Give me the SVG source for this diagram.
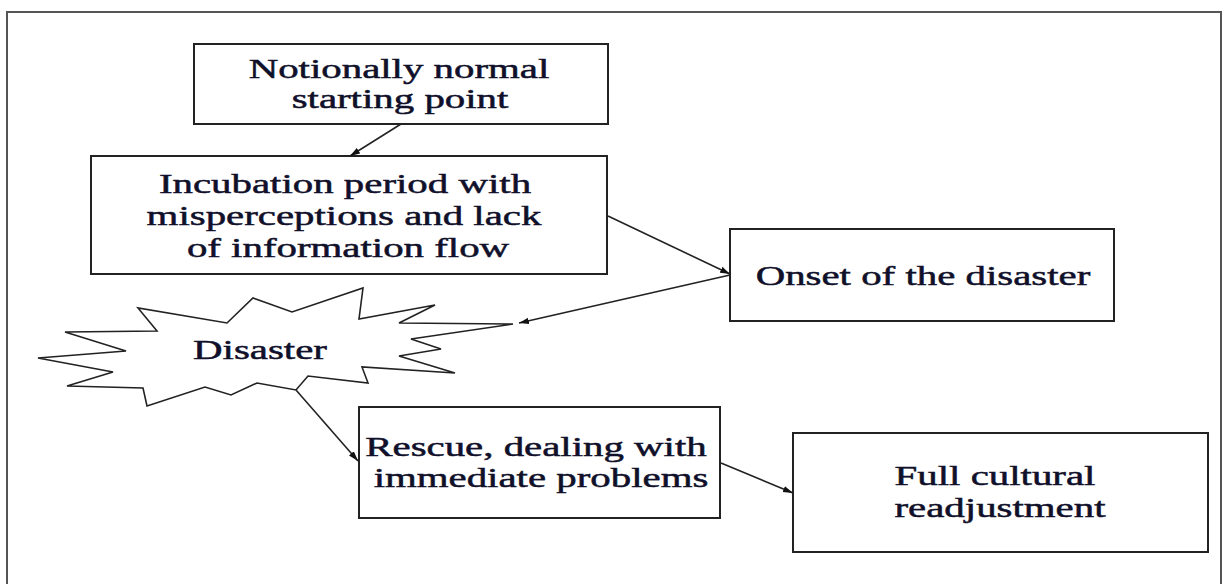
<svg xmlns="http://www.w3.org/2000/svg" width="1226" height="584" viewBox="0 0 1226 584">
<defs>
<style>
.box{fill:#fff;stroke:#222;stroke-width:2}
.lbl{font-family:"Liberation Serif","Times New Roman",serif;font-size:28px;fill:#10102a;stroke:#10102a;stroke-width:0.5;text-anchor:middle}
.conn{stroke:#222;stroke-width:1.6;fill:none;marker-end:url(#ah)}
</style>
<marker id="ah" viewBox="0 0 10 8" refX="10" refY="4" markerWidth="10" markerHeight="8" markerUnits="userSpaceOnUse" orient="auto">
<path d="M0,0.8 L10,4 L0,7.2 Z" fill="#111"/>
</marker>
</defs>
<rect x="0" y="0" width="1226" height="584" fill="#fff"/>
<rect id="frame" x="7" y="12" width="1214" height="620" fill="none" stroke="#555" stroke-width="2"/>

<g id="node-start">
<rect class="box" x="194" y="44" width="414" height="80"/>
<text class="lbl" transform="translate(399 0) scale(1.46 1)" x="0" y="78">Notionally normal</text>
<text class="lbl" transform="translate(400 0) scale(1.46 1)" x="0" y="108">starting point</text>
</g>

<g id="node-incubation">
<rect class="box" x="91" y="156" width="516" height="118"/>
<text class="lbl" transform="translate(345 0) scale(1.46 1)" x="0" y="193">Incubation period with</text>
<text class="lbl" transform="translate(344 0) scale(1.46 1)" x="0" y="225">misperceptions and lack</text>
<text class="lbl" transform="translate(348 0) scale(1.46 1)" x="0" y="257">of information flow</text>
</g>

<g id="node-onset">
<rect class="box" x="730" y="229" width="384" height="92"/>
<text class="lbl" transform="translate(923 0) scale(1.46 1)" x="0" y="285">Onset of the disaster</text>
</g>

<g id="node-disaster">
<polygon points="363,288 359,319 435,305 399,323 513,324 411,339 441,349 399,356 455,373 362,367 368,383 308,376 296,390 257,383 231,395 205,387 147,406 143,388 67,386 113,372 38,358 126,351 65,332 157,331 138,308 227,323 253,298 292,312" fill="#fff" stroke="#222" stroke-width="1.6" stroke-linejoin="miter"/>
<text class="lbl" transform="translate(260 0) scale(1.46 1)" x="0" y="359">Disaster</text>
</g>

<g id="node-rescue">
<rect class="box" x="359" y="407" width="361" height="111"/>
<text class="lbl" transform="translate(536 0) scale(1.46 1)" x="0" y="456">Rescue, dealing with</text>
<text class="lbl" transform="translate(541 0) scale(1.46 1)" x="0" y="487">immediate problems</text>
</g>

<g id="node-readjust">
<rect class="box" x="793" y="433" width="415" height="119"/>
<text class="lbl" transform="translate(995 0) scale(1.46 1)" x="0" y="485">Full cultural</text>
<text class="lbl" transform="translate(1000 0) scale(1.46 1)" x="0" y="517">readjustment</text>
</g>

<g id="connectors">
<line class="conn" x1="401" y1="124" x2="350" y2="156"/>
<line class="conn" x1="608" y1="216" x2="730" y2="274"/>
<line class="conn" x1="730" y1="275" x2="519" y2="323"/>
<line class="conn" x1="296" y1="390" x2="358" y2="461"/>
<line class="conn" x1="721" y1="463" x2="793" y2="493"/>
</g>
</svg>
